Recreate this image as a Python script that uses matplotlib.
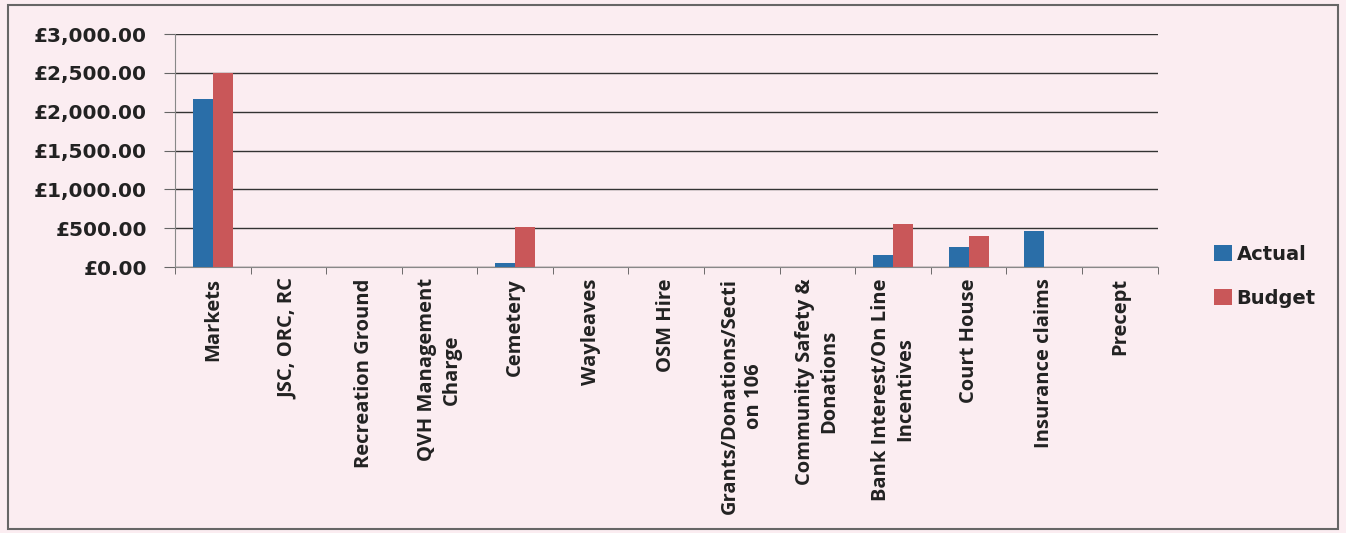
import matplotlib.pyplot as plt
import numpy as np
from matplotlib.patches import Rectangle
from matplotlib.ticker import FuncFormatter

categories = ["Markets", "JSC, ORC, RC", "Recreation Ground", "QVH Management\nCharge",
              "Cemetery", "Wayleaves", "OSM Hire", "Grants/Donations/Secti\non 106",
              "Community Safety &\nDonations", "Bank Interest/On Line\nIncentives",
              "Court House", "Insurance claims", "Precept"]
actual = [2170, 0, 0, 0, 50, 0, 0, 0, 0, 155, 260, 470, 0]
budget = [2500, 0, 0, 0, 520, 0, 0, 0, 0, 555, 400, 0, 0]

plt.rcParams['font.family'] = ['Open Sans', 'DejaVu Sans']

bg = '#fbedf1'
fig = plt.figure(figsize=(13.46, 5.33), dpi=100, facecolor=bg)
ax = fig.add_axes([0.130, 0.499, 0.730, 0.437])
ax.set_facecolor(bg)

x = np.arange(len(categories))
w = 0.265
ax.bar(x - w / 2, actual, w, color='#2a6ea8', label='Actual', zorder=3)
ax.bar(x + w / 2, budget, w, color='#c95759', label='Budget', zorder=3)

ax.set_xlim(-0.5, len(categories) - 0.5)
ax.set_ylim(0, 3000)
ax.set_yticks(np.arange(0, 3001, 500))
ax.yaxis.set_major_formatter(FuncFormatter(lambda v, p: '£{:,.2f}'.format(v)))
ax.grid(axis='y', color='#333333', linewidth=1.0, zorder=0)

ax.set_xticks(x)
ax.set_xticklabels(categories, rotation=90, fontsize=14.5, fontweight='bold',
                   color='#222222', ha='center', va='top', multialignment='center',
                   linespacing=1.3)
ax.set_xticks(np.arange(-0.5, len(categories)), minor=True)
ax.tick_params(axis='x', which='major', length=0, pad=8)
ax.tick_params(axis='x', which='minor', length=5, color='#555555')
ax.tick_params(axis='y', length=8, color='#666666', pad=12)
for lbl in ax.get_yticklabels():
    lbl.set_family('DejaVu Sans')
    lbl.set_fontweight('bold')
    lbl.set_fontsize(14.5)
    lbl.set_color('#222222')

for side in ['top', 'right']:
    ax.spines[side].set_visible(False)
ax.spines['left'].set_color('#888888')
ax.spines['bottom'].set_color('#888888')

ax.legend(loc='center left', bbox_to_anchor=(1.04, -0.04), frameon=False,
          prop={'family': 'DejaVu Sans', 'size': 14, 'weight': 'bold'},
          handlelength=0.9, handleheight=0.9, handletextpad=0.25, labelspacing=1.3,
          labelcolor='#222222')

fig.patches.append(Rectangle((0.006, 0.008), 0.988, 0.982, transform=fig.transFigure,
                             fill=False, edgecolor='#666666', linewidth=1.5))

fig.savefig('out.png', dpi=100, facecolor=bg)
